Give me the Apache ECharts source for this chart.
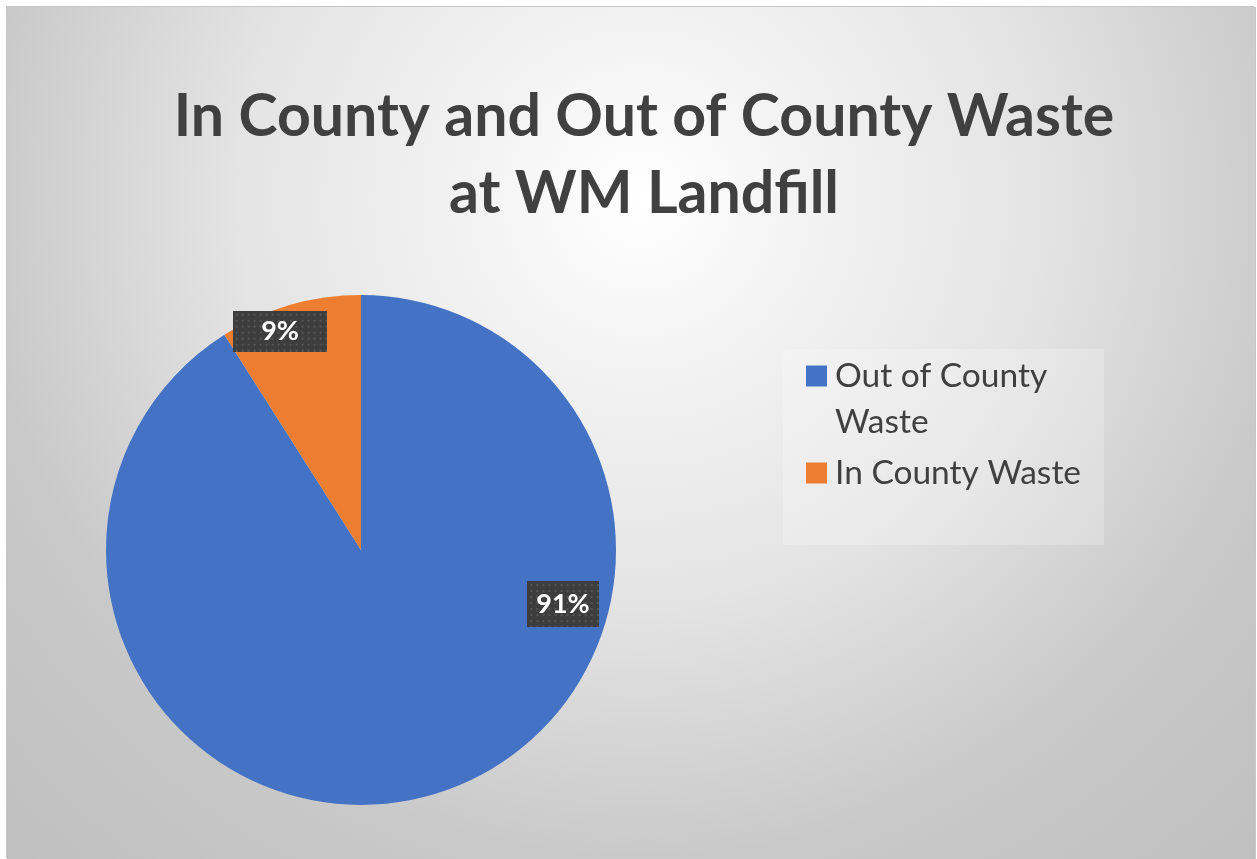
<!DOCTYPE html>
<html>
<head>
<meta charset="UTF-8">
<title>In County and Out of County Waste</title>
<style type="text/css">
   body{
      margin:0;
      background-color:#ffffff;
      overflow:hidden;
   }
   .frame{
      position:absolute;
      left:7px;
      top:7px;
      width:1248px;
      height:852px;
      box-shadow:-1px -1px 0 #c6c6c6, 1px 0 0 #c6c6c6;
      background:radial-gradient(circle at 633px 193px, #ffffff 0px, #f4f4f4 150px, #e4e4e4 400px, #c9c9c9 660px, #bcbcbc 1000px);
   }
   #container{
      width:100%;
      height:100%;
   }
</style>
</head>
<body>
<div class="frame"><div id="container"></div></div>
<script src="https://cdn.jsdelivr.net/npm/echarts@6/dist/echarts.min.js"></script>
<script type="text/javascript">
var categories = ['Out of County Waste', 'In County Waste'];
var shares = [91, 9];
var sliceColors = ['#4472C4', '#ED7D31'];

var titleLines = ['In County and Out of County Waste', 'at WM Landfill'];

// pie geometry (px, inside the frame)
var pieCenter = [354, 543];
var pieRadius = 255;
// where the data labels sit: angle in degrees (ccw from 3 o'clock), distance as part of radius
var labelAngles = [-15, 110.3];
var labelRadii = [0.82, 0.915];
// label box sizes as drawn in the original
var labelBoxes = [[71, 46], [95, 41]];

var font = 'Lato';

function dotted(w, h){
   var c = document.createElement('canvas');
   c.width = w;
   c.height = h;
   var g = c.getContext('2d');
   g.fillStyle = '#3d3d3d';
   g.fillRect(0, 0, w, h);
   g.fillStyle = '#575757';
   for (var y = 3; y < h; y += 6) {
      for (var x = 3; x < w; x += 6) {
         g.fillRect(x, y, 2, 2);
      }
   }
   return c;
}

var dom = document.getElementById("container");
var myChart = echarts.init(dom);

var pieData = [];
for (var i = 0; i < categories.length; i++) {
   var txtW = shares[i] >= 10 ? 53 : 38;   // rough text width at 27px bold
   var box = labelBoxes[i];
   pieData.push({
      name: categories[i],
      value: shares[i],
      label: {
         padding: [(box[1] - 27) / 2, (box[0] - txtW) / 2],
         backgroundColor: { image: dotted(box[0], box[1]) }
      }
   });
}

var option = {
   color: sliceColors,
   animation: false,
   title: {
      text: titleLines.join('\n'),
      left: 637,
      textAlign: 'center',
      top: 71,
      padding: 0,
      textStyle: {
         fontFamily: font,
         fontWeight: 'bold',
         fontSize: 59,
         lineHeight: 77,
         color: '#404040'
      }
   },
   legend: {
      orient: 'vertical',
      left: 799,
      top: 300,
      padding: 0,
      itemGap: 5,
      itemWidth: 21,
      itemHeight: 21,
      icon: 'rect',
      selectedMode: false,
      data: categories,
      formatter: function(name){
         // first entry wraps onto two lines; leading blank line keeps the marker on the first line
         if (name === categories[0]) {
            return '\nOut of County\nWaste';
         }
         return name;
      },
      textStyle: {
         fontFamily: font,
         fontSize: 33.5,
         lineHeight: 46,
         padding: [0, 0, 0, 3],
         color: '#404040'
      }
   },
   graphic: [{
      type: 'rect',
      z: -1,
      shape: { x: 776, y: 342, width: 321, height: 196 },
      style: { fill: 'rgba(255,255,255,0.22)' },
      silent: true
   }],
   series: [{
      name: 'Waste',
      type: 'pie',
      center: pieCenter,
      radius: pieRadius,
      startAngle: 90,
      clockwise: true,
      percentPrecision: 0,
      itemStyle: { borderWidth: 0 },
      emphasis: { disabled: true },
      label: {
         show: true,
         position: 'inside',
         formatter: function(p){ return p.percent + '%'; },
         fontFamily: font,
         fontWeight: 'bold',
         fontSize: 27,
         lineHeight: 27,
         color: '#ffffff',
         shadowColor: 'rgba(0,0,0,0.45)',
         shadowBlur: 6,
         shadowOffsetX: 3,
         shadowOffsetY: 3
      },
      labelLine: { show: false },
      labelLayout: function(p){
         var k = p.dataIndex;
         var a = labelAngles[k] * Math.PI / 180;
         var d = labelRadii[k] * pieRadius;
         return {
            x: pieCenter[0] + d * Math.cos(a),
            y: pieCenter[1] - d * Math.sin(a),
            align: 'center',
            verticalAlign: 'middle'
         };
      },
      data: pieData
   }]
};

myChart.setOption(option, true);
</script>
</body>
</html>
